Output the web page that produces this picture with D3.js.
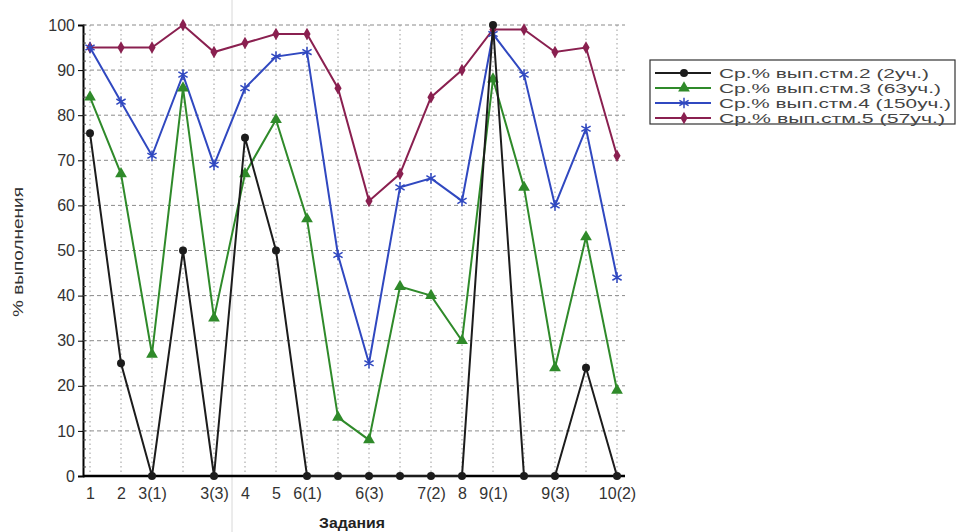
<!DOCTYPE html>
<html><head><meta charset="utf-8">
<script src="https://cdn.jsdelivr.net/npm/d3@7"></script>
<style>body{margin:0;background:#fff}svg{display:block}</style>
</head><body>
<script>
const categories = ["1","2","3(1)","3(2)","3(3)","4","5","6(1)","6(2)","6(3)","7(1)","7(2)","8","9(1)","9(2)","9(3)","10(1)","10(2)"];
const shownLabels = ["1","2","3(1)","3(3)","4","5","6(1)","6(3)","7(2)","8","9(1)","9(3)","10(2)"];
const yTicks = [0,10,20,30,40,50,60,70,80,90,100];
const seriesNames = ["Ср.% вып.стм.2 (2уч.)","Ср.% вып.стм.3 (63уч.)","Ср.% вып.стм.4 (150уч.)","Ср.% вып.стм.5 (57уч.)"];
const stm2 = [76,25,0,50,0,75,50,0,0,0,0,0,0,100,0,0,24,0];
const stm3 = [84,67,27,86,35,67,79,57,13,8,42,40,30,88,64,24,53,19];
const stm4 = [95,83,71,89,69,86,93,94,49,25,64,66,61,98,89,60,77,44];
const stm5 = [95,95,95,100,94,96,98,98,86,61,67,84,90,99,99,94,95,71];
const seriesColors = ["#1c1c1c","#2f8a2a","#3048c0","#8a2050"];
const seriesShapes = ["circle","triangle","star","diamond"];

(function(){
const W=963,H=532;
const svg=d3.select("body").append("svg").attr("width",W).attr("height",H);
const pl=83,pr=625,pt=25,pb=476;
const x=d3.scalePoint().domain(categories).range([90,617]);
const y=d3.scaleLinear().domain([0,100]).range([pb,pt]);
const FF="Liberation Sans, Arial, sans-serif";

// scan artifact line
svg.append("line").attr("x1",232).attr("x2",232).attr("y1",0).attr("y2",H).attr("stroke","#d8d8d8").attr("stroke-width",1);

// grid
const g=svg.append("g");
g.selectAll(".hg").data(yTicks.filter(d=>d>0)).join("line")
 .attr("x1",pl).attr("x2",pr).attr("y1",d=>y(d)).attr("y2",d=>y(d))
 .attr("stroke","#8a8a8a").attr("stroke-width",1).attr("stroke-dasharray","4,3");
g.selectAll(".vg").data(categories).join("line")
 .attr("x1",d=>x(d)).attr("x2",d=>x(d)).attr("y1",pt).attr("y2",pb)
 .attr("stroke","#9a9a9a").attr("stroke-width",1).attr("stroke-dasharray","1.5,3");

// axes
const yAxis=d3.axisLeft(y).tickValues(yTicks).tickSize(5).tickPadding(3);
const ya=svg.append("g").attr("transform",`translate(${pl},0)`).call(yAxis);
ya.select(".domain").attr("stroke","#000").attr("stroke-width",2);
ya.selectAll("text").attr("font-family",FF).attr("font-size",16).attr("fill","#333");
svg.append("g").selectAll("line").data(d3.range(0,101,2)).join("line")
 .attr("x1",pl).attr("x2",pl+3).attr("y1",d=>y(d)).attr("y2",d=>y(d)).attr("stroke","#444").attr("stroke-width",1);

const xAxis=d3.axisBottom(x).tickValues(shownLabels).tickSize(0).tickPadding(12);
const xa=svg.append("g").attr("transform",`translate(0,${pb})`).call(xAxis);
xa.select(".domain").remove();
xa.selectAll("text").attr("font-family",FF).attr("font-size",16).attr("fill","#333");
svg.append("line").attr("x1",pl).attr("x2",pr).attr("y1",pb).attr("y2",pb).attr("stroke","#000").attr("stroke-width",2.5);

// titles
svg.append("text").attr("x",352).attr("y",528).attr("text-anchor","middle")
 .attr("font-family",FF).attr("font-weight","bold").attr("font-size",14).attr("fill","#222")
 .attr("textLength",66).attr("lengthAdjust","spacingAndGlyphs").text("Задания");
svg.append("text").attr("transform","translate(23,252) rotate(-90)").attr("text-anchor","middle")
 .attr("font-family",FF).attr("font-size",14).attr("fill","#333")
 .attr("textLength",130).attr("lengthAdjust","spacingAndGlyphs").text("% выполнения");

function marker(sel,shape,color,cx,cy){
  if(shape==="circle") sel.append("circle").attr("cx",cx).attr("cy",cy).attr("r",4).attr("fill",color);
  else if(shape==="triangle") sel.append("path").attr("d",d3.symbol(d3.symbolTriangle,60)()).attr("transform",`translate(${cx},${cy})`).attr("fill",color);
  else if(shape==="diamond") sel.append("path").attr("d",d3.symbol(d3.symbolDiamond,45)()).attr("transform",`translate(${cx},${cy})`).attr("fill",color);
  else if(shape==="star") sel.append("path").attr("d",d3.symbol(d3.symbolAsterisk,80)()).attr("transform",`translate(${cx},${cy})`).attr("fill","none").attr("stroke",color).attr("stroke-width",1.5);
}

const allSeries=[stm2,stm3,stm4,stm5];
const line=d3.line().x((d,i)=>x(categories[i])).y(d=>y(d));
[3,2,1,0].forEach(k=>{
  const s=allSeries[k];
  const grp=svg.append("g");
  grp.append("path").datum(s).attr("d",line).attr("fill","none").attr("stroke",seriesColors[k]).attr("stroke-width",2);
  s.forEach((v,i)=>marker(grp,seriesShapes[k],seriesColors[k],x(categories[i]),y(v)));
});

// legend
const lg=svg.append("g");
lg.append("rect").attr("x",650).attr("y",60).attr("width",305).attr("height",64).attr("fill","#fff").attr("stroke","#333").attr("stroke-width",1.2);
const lens=[210,222,232,226];
seriesNames.forEach((n,i)=>{
  const ly=73+i*15;
  lg.append("line").attr("x1",655).attr("x2",711).attr("y1",ly).attr("y2",ly).attr("stroke",seriesColors[i]).attr("stroke-width",2);
  marker(lg,seriesShapes[i],seriesColors[i],684,ly);
  lg.append("text").attr("x",719).attr("y",ly+5).attr("font-family",FF).attr("font-size",13.5).attr("fill","#444")
    .attr("textLength",lens[i]).attr("lengthAdjust","spacingAndGlyphs").text(n);
});
})();
</script>
</body></html>
